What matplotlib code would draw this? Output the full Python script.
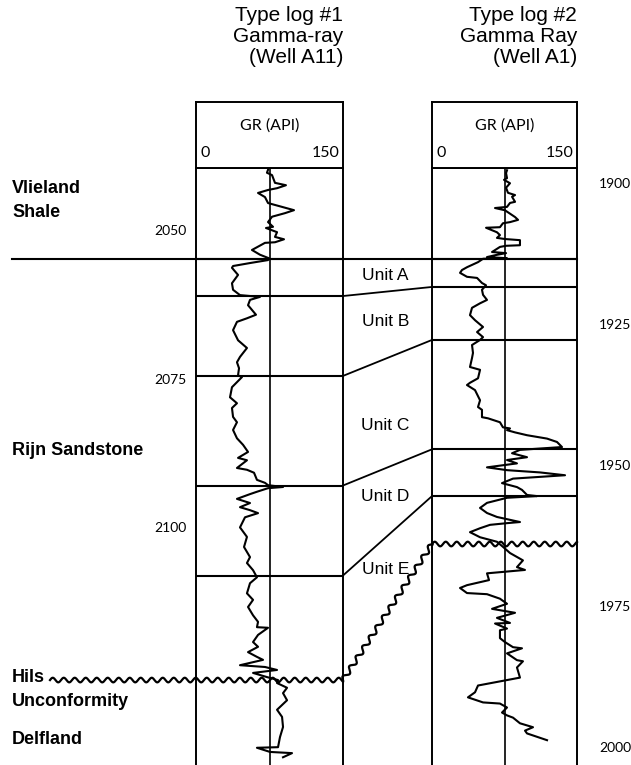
import numpy as np
import matplotlib.pyplot as plt

plt.rcParams['font.family'] = ['Liberation Sans', 'DejaVu Sans']

W, H = 631, 765

# type log #1 (Well A11): depth (m) and gamma ray (API)
gr1_depth = [2039.8, 2040.3, 2040.7, 2042.0, 2042.4, 2042.9, 2043.2, 2043.7, 2044.4, 2045.4,
             2046.6, 2047.1, 2047.7, 2048.6, 2049.4, 2049.6, 2050.3, 2051.1, 2051.5, 2052.0,
             2052.1, 2053.3, 2054.1, 2054.7, 2055.0, 2055.5, 2056.0, 2056.3, 2057.5, 2058.9,
             2060.0, 2060.9, 2061.2, 2061.7, 2062.6, 2064.2, 2064.8, 2065.4, 2066.8, 2068.5,
             2069.8, 2071.3, 2072.2, 2073.2, 2074.4, 2074.7, 2076.4, 2078.1, 2079.1, 2079.9,
             2081.4, 2082.3, 2083.6, 2085.0, 2086.1, 2087.3, 2088.3, 2088.7, 2090.0, 2090.3,
             2090.8, 2092.0, 2092.5, 2092.9, 2093.2, 2093.4, 2094.0, 2094.4, 2095.2, 2095.9,
             2096.6, 2097.1, 2097.6, 2098.3, 2100.0, 2101.6, 2103.3, 2105.0, 2106.0, 2107.2,
             2108.4, 2109.4, 2111.1, 2112.2, 2113.4, 2114.8, 2115.9, 2116.8, 2116.9, 2118.1,
             2119.3, 2120.1, 2121.0, 2121.8, 2122.3, 2123.2, 2123.5, 2124.0, 2124.5, 2125.2,
             2125.7, 2126.2, 2127.0, 2127.9, 2129.1, 2130.7, 2131.9, 2133.6, 2135.3, 2137.0,
             2137.1, 2137.8, 2138.0, 2138.7]
gr1_api = [73.5, 72.4, 77.6, 80.6, 91.8, 82.7, 73.5, 63.3, 70.4, 73.5,
           100.0, 90.8, 77.6, 73.5, 78.6, 71.4, 82.7, 80.6, 89.8, 80.6,
           70.4, 57.1, 65.3, 74.5, 73.5, 55.1, 37.8, 36.7, 42.9, 36.7,
           37.8, 44.9, 65.3, 55.1, 53.1, 61.2, 52.0, 41.8, 37.8, 42.9,
           52.0, 44.9, 41.8, 43.9, 42.9, 46.9, 36.7, 34.7, 41.8, 36.7,
           37.8, 41.8, 37.8, 41.8, 48.0, 53.1, 42.9, 52.0, 41.8, 52.0,
           59.2, 62.2, 70.4, 73.5, 88.8, 73.5, 62.2, 55.1, 41.8, 55.1,
           44.9, 55.1, 63.3, 50.0, 44.9, 52.0, 49.0, 55.1, 52.0, 58.2,
           62.2, 55.1, 52.0, 58.2, 53.1, 58.2, 63.3, 62.2, 73.5, 63.3,
           58.2, 63.3, 53.1, 62.2, 68.4, 44.9, 70.4, 82.7, 58.2, 72.4,
           83.7, 82.7, 92.9, 88.8, 92.9, 82.7, 87.8, 88.8, 85.7, 83.7,
           62.2, 75.5, 98.0, 88.8]

# type log #2 (Well A1)
gr2_depth = [1897.7, 1898.2, 1899.1, 1899.4, 1900.0, 1900.8, 1901.7, 1902.1, 1902.4, 1903.3,
             1903.5, 1904.2, 1904.4, 1904.8, 1906.0, 1906.5, 1906.9, 1907.1, 1907.8, 1907.9,
             1908.7, 1909.2, 1909.7, 1909.9, 1910.1, 1911.0, 1911.1, 1911.3, 1912.2, 1912.4,
             1912.7, 1913.1, 1913.3, 1913.4, 1914.0, 1914.9, 1915.4, 1915.9, 1916.6, 1916.8,
             1917.7, 1918.1, 1918.9, 1919.8, 1920.7, 1921.3, 1922.1, 1923.4, 1924.3, 1925.5,
             1926.4, 1927.3, 1927.8, 1928.7, 1930.1, 1931.0, 1932.6, 1933.1, 1934.6, 1935.4,
             1935.8, 1936.7, 1938.5, 1939.7, 1940.2, 1941.5, 1941.7, 1942.4, 1943.3, 1943.5,
             1943.8, 1944.2, 1944.7, 1945.3, 1945.9, 1946.8, 1947.3, 1947.9, 1948.6, 1949.1,
             1949.7, 1950.4, 1950.9, 1951.3, 1951.8, 1952.4, 1953.2, 1953.9, 1954.4, 1955.3,
             1955.5, 1955.8, 1956.7, 1957.6, 1958.5, 1959.2, 1960.1, 1960.3, 1960.6, 1961.2,
             1961.9, 1962.8, 1963.6, 1964.5, 1965.6, 1966.9, 1968.1, 1968.6, 1969.2, 1970.4,
             1971.3, 1971.8, 1972.7, 1972.9, 1973.7, 1974.6, 1975.5, 1976.2, 1977.1, 1978.0,
             1978.1, 1979.0, 1979.3, 1980.7, 1981.4, 1982.3, 1982.5, 1983.4, 1984.6, 1984.8,
             1985.9, 1987.7, 1988.6, 1989.1, 1990.3, 1991.2, 1992.1, 1992.3, 1993.0, 1993.9,
             1994.4, 1994.8, 1995.8, 1996.5, 1997.1, 1997.6, 1998.8]
gr2_api = [77.6, 76.6, 77.6, 74.5, 80.7, 76.6, 78.6, 85.9, 82.8, 85.9,
           80.7, 77.6, 65.2, 75.5, 85.9, 89.0, 80.7, 73.4, 70.3, 55.9,
           67.2, 70.3, 67.2, 75.5, 91.0, 91.0, 76.6, 70.3, 62.1, 76.6,
           67.2, 56.9, 77.6, 52.8, 47.6, 36.2, 31.0, 29.0, 36.2, 46.6,
           51.7, 55.9, 51.7, 52.8, 56.9, 49.7, 41.4, 39.3, 44.5, 52.8,
           46.6, 52.8, 49.7, 41.4, 42.4, 41.4, 39.3, 49.7, 47.6, 39.3,
           36.2, 44.5, 49.7, 47.6, 51.7, 51.7, 57.9, 70.3, 73.4, 80.7,
           77.6, 85.9, 98.3, 119.0, 129.3, 134.5, 91.0, 82.8, 98.3, 77.6,
           87.9, 56.9, 77.6, 111.7, 137.6, 83.8, 72.4, 87.9, 93.1, 98.3,
           108.6, 77.6, 56.9, 49.7, 56.9, 67.2, 91.0, 77.6, 60.0, 49.7,
           39.3, 49.7, 67.2, 73.4, 80.7, 94.1, 87.9, 96.2, 56.9, 59.0,
           36.2, 29.0, 36.2, 56.9, 70.3, 77.6, 62.1, 85.9, 67.2, 80.7,
           65.2, 77.6, 70.3, 70.3, 75.5, 83.8, 93.1, 77.6, 87.9, 94.1,
           87.9, 91.0, 63.1, 47.6, 44.5, 37.2, 52.8, 70.3, 77.6, 72.4,
           77.6, 83.8, 91.0, 104.5, 96.2, 98.3, 119.0]

# correlated tops: base Vlieland, base Unit A..D, unconformity
tops1 = [2054.8, 2061.05, 2074.5, 2092.95, 2108.1]
tops2 = [1913.45, 1918.4, 1927.8, 1947.2, 1955.5]
unconf1 = 2125.7
unconf2 = 1964.0
units = ['Unit A', 'Unit B', 'Unit C', 'Unit D', 'Unit E']
unit_depth2 = [1916.3, 1924.6, 1942.9, 1955.5, 1968.6]
ticks1 = [2050, 2075, 2100]
ticks2 = [1900, 1925, 1950, 1975, 2000]


def box(x0, x1, y0, y1):
    return [x0 / W, 1 - y1 / H, (x1 - x0) / W, (y1 - y0) / H]


def wavy(p0, p1, wl=11.0, amp=2.3):
    # wavy unconformity symbol between two pixel points
    p0, p1 = np.asarray(p0, float), np.asarray(p1, float)
    L = np.hypot(*(p1 - p0))
    t = np.linspace(0, 1, int(L * 4) + 2)
    u = (p1 - p0) / L
    n = np.array([-u[1], u[0]])
    off = amp * np.sin(2 * np.pi * t * L / wl)
    pts = p0 + np.outer(t, p1 - p0) + np.outer(off, n)
    return pts[:, 0], pts[:, 1]


fig = plt.figure(figsize=(W / 100, H / 100), dpi=100)
ax1 = fig.add_axes(box(196, 343, 168, 765))
ax2 = fig.add_axes(box(432, 577, 168, 765))
h1 = fig.add_axes(box(196, 343, 102, 168))
h2 = fig.add_axes(box(432, 577, 102, 168))
ov = fig.add_axes([0, 0, 1, 1], zorder=5)
ov.set_xlim(0, W)
ov.set_ylim(0, H)
ov.axis('off')

ax1.set_ylim(2140, 2039.5)
ax2.set_ylim(2003.2, 1897.3)

for ax, dep, api in [(ax1, gr1_depth, gr1_api), (ax2, gr2_depth, gr2_api)]:
    ax.set_xlim(0, 150)
    ax.plot(api, dep, color='k', lw=1.5)
    ax.axvline(75, color='k', lw=1.2)
    ax.set_xticks([])
    ax.spines['bottom'].set_visible(False)
    for s in ['left', 'right', 'top']:
        ax.spines[s].set_linewidth(1.4)
    ax.tick_params(axis='y', length=0, labelsize=10)

ax1.set_yticks(ticks1)
ax1.tick_params(axis='y', pad=6.5)
ax2.set_yticks(ticks2)
ax2.yaxis.tick_right()
ax2.tick_params(axis='y', length=0, pad=16)
for lab in ax1.get_yticklabels() + ax2.get_yticklabels():
    lab.set_family(['Lato', 'DejaVu Sans'])

for d in tops1:
    ax1.axhline(d, color='k', lw=1.5)
for d in tops2:
    ax2.axhline(d, color='k', lw=1.5)

for h in (h1, h2):
    h.set_xlim(0, 150)
    h.set_ylim(0, 1)
    h.set_xticks([])
    h.set_yticks([])
    for s in h.spines.values():
        s.set_linewidth(1.4)
    h.text(75, 0.65, 'GR (API)', ha='center', va='center', fontsize=11.5, family=['Lato', 'DejaVu Sans'])
    h.text(5, 0.23, '0', ha='left', va='center', fontsize=11.5, family=['Lato', 'DejaVu Sans'])
    h.text(146, 0.23, '150', ha='right', va='center', fontsize=11.5, family=['Lato', 'DejaVu Sans'])

fig.canvas.draw()


def px(ax, x, d):
    return ax.transData.transform((x, d))


# Vlieland base runs across the whole section
y0 = px(ax1, 0, tops1[0])[1]
ov.plot([12, px(ax2, 150, tops2[0])[0]], [y0, y0], color='k', lw=1.5)
for d1, d2 in zip(tops1[1:], tops2[1:]):
    a, b = px(ax1, 150, d1), px(ax2, 0, d2)
    ov.plot([a[0], b[0]], [a[1], b[1]], color='k', lw=1.3)

# unconformities
a = px(ax1, 150, unconf1)
xs, ys = wavy((50, a[1]), a)
ov.plot(xs, ys, color='k', lw=1.6)
b = px(ax2, 0, unconf2)
xs, ys = wavy(a, b, wl=12, amp=2.4)
ov.plot(xs, ys, color='k', lw=1.6)
c = px(ax2, 150, unconf2)
xs, ys = wavy(b, c)
ov.plot(xs, ys, color='k', lw=1.6)

xg = (px(ax1, 150, 0)[0] + px(ax2, 0, 0)[0]) / 2
for name, d in zip(units, unit_depth2):
    ov.text(xg - 2, px(ax2, 0, d)[1], name, ha='center', va='center', fontsize=12.5)

fig.text(343 / W, 1 - 6 / H, 'Type log #1\nGamma-ray\n(Well A11)', ha='right', va='top',
         multialignment='right', fontsize=15, linespacing=1.12)
fig.text(577 / W, 1 - 6 / H, 'Type log #2\nGamma Ray\n(Well A1)', ha='right', va='top',
         multialignment='right', fontsize=15, linespacing=1.12)

labels = [('Vlieland', 188), ('Shale', 212), ('Rijn Sandstone', 450),
          ('Hils', 678), ('Unconformity', 702), ('Delfland', 739)]
for txt, y in labels:
    ov.text(12, H - y, txt, ha='left', va='center', fontsize=13, fontweight='bold')

fig.savefig('out.png', dpi=100)
